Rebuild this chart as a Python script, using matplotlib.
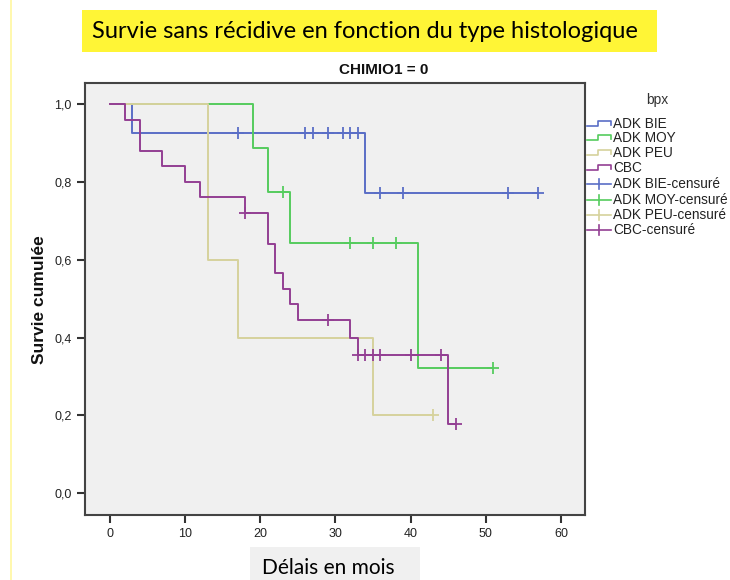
import numpy as np
import matplotlib
matplotlib.use("Agg")
import matplotlib.pyplot as plt
from matplotlib.lines import Line2D
from matplotlib.patches import Rectangle
from matplotlib.ticker import FuncFormatter

# ---- data ----
groups = ["ADK BIE", "ADK MOY", "ADK PEU", "CBC"]
colors = ["#5a6ec6", "#55cc5e", "#d6d29c", "#933f93"]

bie_t = [0, 3, 34, 57]
bie_s = [1.0, 0.926, 0.772, 0.772]
bie_c = [17, 26, 27, 29, 31, 32, 33, 36, 39, 53, 57]

moy_t = [0, 19, 21, 24, 41, 51]
moy_s = [1.0, 0.886, 0.775, 0.644, 0.322, 0.322]
moy_c = [23, 32, 35, 38, 51]

peu_t = [0, 13, 17, 35, 43]
peu_s = [1.0, 0.6, 0.4, 0.2, 0.2]
peu_c = [43]

cbc_t = [0, 2, 4, 7, 10, 12, 18, 21, 22, 23, 24, 25, 32, 33, 45, 46]
cbc_s = [1.0, 0.96, 0.88, 0.84, 0.80, 0.76, 0.72, 0.64, 0.565, 0.525,
         0.485, 0.445, 0.40, 0.355, 0.178, 0.178]
cbc_c = [18, 29, 33, 34, 35, 36, 40, 44, 46]

series = [(bie_t, bie_s, bie_c), (moy_t, moy_s, moy_c),
          (peu_t, peu_s, peu_c), (cbc_t, cbc_s, cbc_c)]

xticks = [0, 10, 20, 30, 40, 50, 60]
yticks = [0.0, 0.2, 0.4, 0.6, 0.8, 1.0]

W, H = 730, 580
fig = plt.figure(figsize=(W / 100, H / 100), dpi=100)
fig.patch.set_facecolor("white")

def fx(px):
    return px / W

def fy(py):
    return 1 - py / H

# yellow left line
fig.add_artist(Line2D([fx(11), fx(11)], [0, 1], color="#fff7a0", lw=1.2,
                      transform=fig.transFigure))

# title box
fig.add_artist(Rectangle((fx(82), fy(52)), fx(657) - fx(82), fy(10) - fy(52),
                         transform=fig.transFigure, facecolor="#fff536",
                         edgecolor="none"))
fig.text(fx(365), fy(32), "Survie sans récidive en fonction du type histologique",
         ha="center", va="center", fontsize=17, family="Lato", color="black")

fig.text(fx(384), fy(70), "CHIMIO1 = 0", ha="center", va="center",
         fontsize=11, fontweight="bold", family="Liberation Sans", color="#111")

ax = fig.add_axes([fx(85), fy(515), fx(585) - fx(85), fy(83) - fy(515)])
ax.set_facecolor("#f0f0f0")

for i in range(4):
    t, s, c = series[i]
    ax.step(t, s, where="post", color=colors[i], lw=1.4, zorder=2 + i)
    t_arr = np.array(t)
    s_arr = np.array(s)
    idx = np.searchsorted(t_arr, np.array(c), side="right") - 1
    ax.plot(c, s_arr[idx], linestyle="none", marker="+", markersize=8,
            markeredgewidth=1.3, color=colors[i], zorder=2 + i)

ax.set_xlim(-3.3, 63.2)
ax.set_ylim(-0.056, 1.054)
ax.set_xticks(xticks)
ax.set_yticks(yticks)
ax.yaxis.set_major_formatter(FuncFormatter(lambda v, p: f"{v:.1f}".replace(".", ",")))
ax.tick_params(direction="out", length=6, width=1.5, color="#333",
               labelsize=9, labelcolor="#222")
for lab in ax.get_xticklabels() + ax.get_yticklabels():
    lab.set_family("Liberation Sans")
for sp in ax.spines.values():
    sp.set_color("#444")
    sp.set_linewidth(1.5)

fig.text(fx(39), fy(300), "Survie cumulée", rotation=90, ha="center",
         va="center", fontsize=12.5, fontweight="bold", family="Liberation Sans",
         color="#111")

# x label box
fig.add_artist(Rectangle((fx(250), 0), fx(420) - fx(250), fy(547),
                         transform=fig.transFigure, facecolor="#f0f0f0",
                         edgecolor="none"))
fig.text(fx(328), fy(568), "Délais en mois", ha="center", va="center",
         fontsize=15, family="Lato", color="black")

# legend (drawn manually)
fig.text(fx(657), fy(100), "bpx", ha="center", va="center", fontsize=10,
         family="Liberation Sans", color="#333")
leg_y = [124, 138, 153, 168, 184, 200, 215, 230]
labels = groups + [g + "-censuré" for g in groups]
for k, lab in enumerate(labels):
    y = leg_y[k]
    col = colors[k % 4]
    if k < 4:
        xs = [587, 598, 598, 611, 611]
        ys = [y + 2, y + 2, y - 3, y - 3, y + 1]
        fig.add_artist(Line2D([fx(v) for v in xs], [fy(v) for v in ys],
                              color=col, lw=1.2, transform=fig.transFigure))
    else:
        fig.add_artist(Line2D([fx(587), fx(611)], [fy(y), fy(y)], color=col,
                              lw=1.2, transform=fig.transFigure))
        fig.add_artist(Line2D([fx(599), fx(599)], [fy(y - 5), fy(y + 5)],
                              color=col, lw=1.2, transform=fig.transFigure))
    fig.text(fx(613), fy(y), lab, ha="left", va="center", fontsize=9.8,
             family="Liberation Sans", color="#222")

fig.savefig("out.png", dpi=100)
